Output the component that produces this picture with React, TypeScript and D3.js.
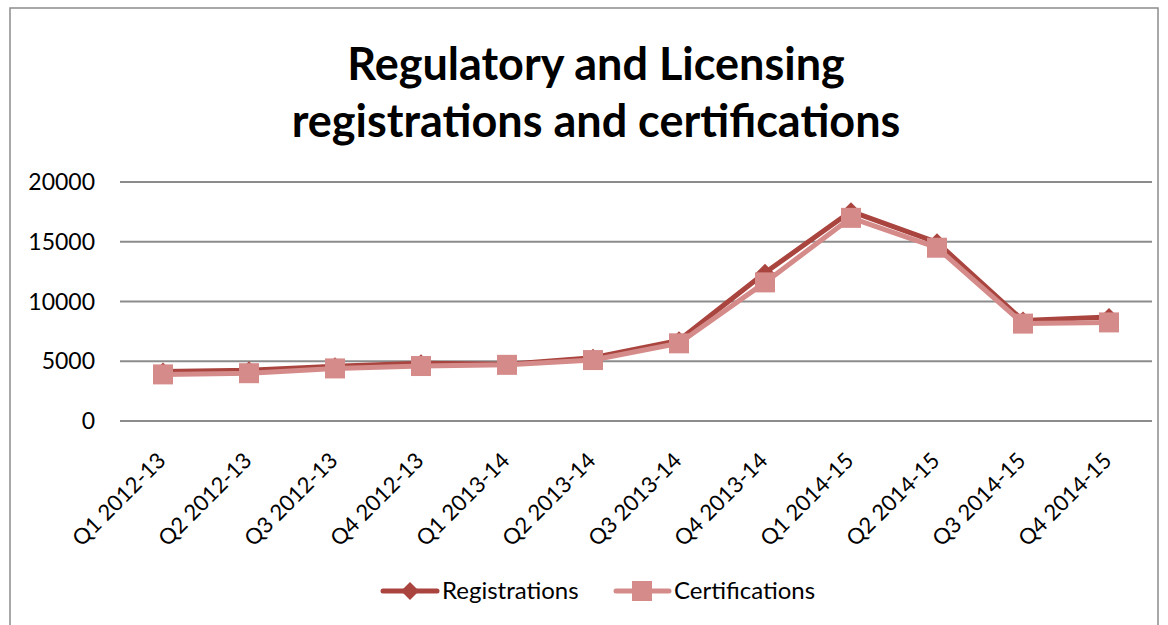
import React from "react";
import * as d3 from "d3";

const categories = [
  "Q1 2012-13", "Q2 2012-13", "Q3 2012-13", "Q4 2012-13",
  "Q1 2013-14", "Q2 2013-14", "Q3 2013-14", "Q4 2013-14",
  "Q1 2014-15", "Q2 2014-15", "Q3 2014-15", "Q4 2014-15",
];
const registrations = [4150, 4250, 4580, 4830, 4750, 5300, 6750, 12400, 17550, 14950, 8400, 8700];
const certifications = [3900, 4000, 4400, 4600, 4700, 5100, 6500, 11600, 17000, 14500, 8150, 8250];
const yTicks = [0, 5000, 10000, 15000, 20000];

const W = 1168, H = 625;
const M = { left: 120, right: 1152, top: 182, bottom: 421 };
const REG = "#A9443F";
const CERT = "#D48B89";
const FONT = "Lato, 'Open Sans', sans-serif";

export default function App() {
  const x = d3.scaleBand().domain(categories).range([M.left, M.right]);
  const y = d3.scaleLinear().domain([0, 20000]).range([M.bottom, M.top]);
  const cx = (c: string) => (x(c) as number) + x.bandwidth() / 2;
  const line = d3.line<number>().x((_, i) => cx(categories[i])).y((d) => y(d));
  const diamond = (px: number, py: number, r: number) =>
    `M${px},${py - r}L${px + r},${py}L${px},${py + r}L${px - r},${py}Z`;

  return (
    <svg width={W} height={H} style={{ position: "absolute", left: 0, top: 0, background: "#fff" }} fontFamily={FONT}>
      <rect x={10} y={8} width={1148} height={640} fill="#fff" stroke="#8c8c8c" strokeWidth={1.5} />
      <text x={596} y={80} textAnchor="middle" fontSize={45} fontWeight="bold" fill="#000">
        Regulatory and Licensing
      </text>
      <text x={596} y={137} textAnchor="middle" fontSize={45} fontWeight="bold" fill="#000">
        registrations and certifications
      </text>
      {yTicks.map((t) => (
        <g key={t}>
          <line x1={M.left} x2={M.right} y1={y(t)} y2={y(t)} stroke="#8c8c8c" strokeWidth={2} />
          <text x={95} y={y(t)} dy="0.35em" textAnchor="end" fontSize={23} fill="#000">{t}</text>
        </g>
      ))}
      {categories.map((c) => (
        <text key={c} transform={`translate(${cx(c) + 4},${462}) rotate(-45)`} textAnchor="end" fontSize={22} fill="#000">
          {c}
        </text>
      ))}
      <path d={line(registrations) || ""} fill="none" stroke={REG} strokeWidth={5} strokeLinejoin="round" />
      {registrations.map((v, i) => (
        <path key={i} d={diamond(cx(categories[i]), y(v), 9)} fill={REG} />
      ))}
      <path d={line(certifications) || ""} fill="none" stroke={CERT} strokeWidth={5} strokeLinejoin="round" />
      {certifications.map((v, i) => (
        <rect key={i} x={cx(categories[i]) - 10} y={y(v) - 10} width={20} height={20} fill={CERT} />
      ))}
      <g>
        <line x1={383} x2={437} y1={591} y2={591} stroke={REG} strokeWidth={5} strokeLinecap="round" />
        <path d={diamond(410, 591, 9)} fill={REG} />
        <text x={442} y={591} dy="0.35em" fontSize={24} fill="#000">Registrations</text>
        <line x1={616} x2={669} y1={591} y2={591} stroke={CERT} strokeWidth={5} strokeLinecap="round" />
        <rect x={632} y={581} width={20} height={20} fill={CERT} />
        <text x={674} y={591} dy="0.35em" fontSize={24} fill="#000">Certifications</text>
      </g>
    </svg>
  );
}
